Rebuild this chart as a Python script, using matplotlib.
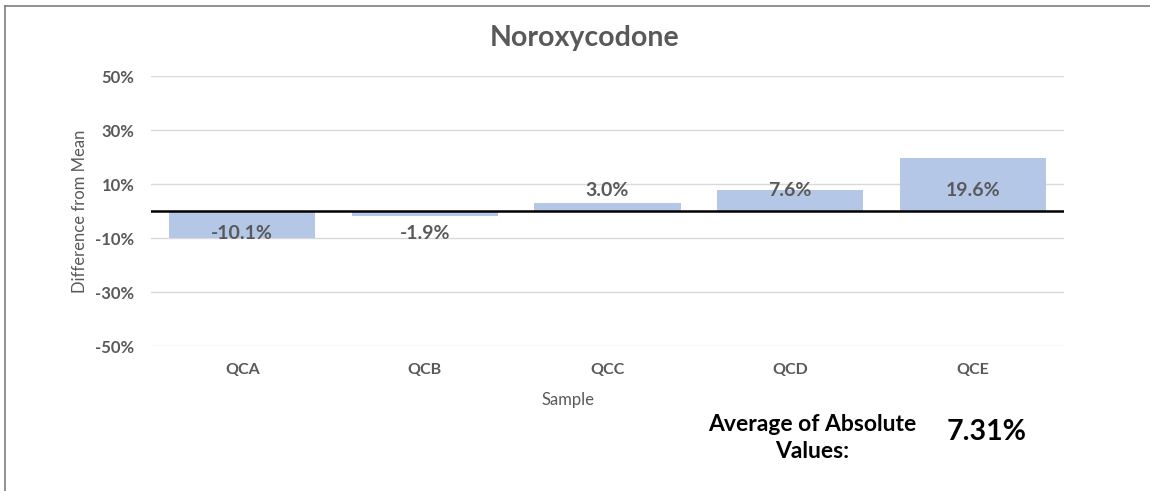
import matplotlib.pyplot as plt
from matplotlib.lines import Line2D

# datos
samples = ["QCA", "QCB", "QCC", "QCD", "QCE"]
diff_pct = [-10.1, -1.9, 3.0, 7.6, 19.6]
yticks = [-50, -30, -10, 10, 30, 50]
avg_abs = "7.31%"

plt.rcParams["font.family"] = ["Lato", "DejaVu Sans"]
gray = "#595959"

fig = plt.figure(figsize=(11.5, 4.91), dpi=100)
ax = fig.add_axes([0.1313, 0.2953, 0.7939, 0.5499])

x = list(range(len(samples)))
ax.bar(x, diff_pct, width=0.8, color="#b4c7e7", zorder=2)
ax.axhline(0, color="black", linewidth=1.8, zorder=3)

# etiquetas de valor, fijas respecto a la linea de cero
for xi, v in zip(x, diff_pct):
    off = 14.5 if v >= 0 else -16
    ax.annotate(f"{v:.1f}%", xy=(xi, 0), xytext=(0, off), textcoords="offset points",
                ha="center", va="center", fontsize=14, fontweight="bold", color=gray, zorder=4)

ax.set_xlim(-0.5, len(samples) - 0.5)
ax.set_ylim(-50, 50)
ax.set_yticks(yticks)
ax.set_yticklabels([f"{t}%" for t in yticks], fontsize=12, fontweight="bold", color=gray)
ax.set_xticks(x)
ax.set_xticklabels(samples, fontsize=11.5, fontweight="bold", color=gray)
ax.tick_params(axis="y", length=0, pad=12)
ax.tick_params(axis="x", length=0, pad=12)
ax.grid(axis="y", color="#d9d9d9", linewidth=1, zorder=0)
for s in ax.spines.values():
    s.set_visible(False)

ax.set_ylabel("Difference from Mean", fontsize=12, color=gray, labelpad=5)
fig.text(568 / 1150, 1 - 400 / 491, "Sample", ha="center", va="center", fontsize=12, color=gray)
fig.text(585 / 1150, 1 - 38 / 491, "Noroxycodone", ha="center", va="center",
         fontsize=20.5, fontweight="bold", color=gray)

fig.text(812 / 1150, 1 - 438 / 491, "Average of Absolute\nValues:", ha="center", va="center",
         fontsize=16.5, fontweight="bold", color="black", linespacing=1.3)
fig.text(987 / 1150, 1 - 432 / 491, avg_abs, ha="center", va="center",
         fontsize=20.5, fontweight="bold", color="black")

# marco del grafico
fig.add_artist(Line2D([0.0045, 1.0], [0.988, 0.988], transform=fig.transFigure, color="#7f7f7f", linewidth=1.2))
fig.add_artist(Line2D([0.0045, 0.0045], [0.0, 0.988], transform=fig.transFigure, color="#7f7f7f", linewidth=1.2))

fig.savefig("out.png", dpi=100)
